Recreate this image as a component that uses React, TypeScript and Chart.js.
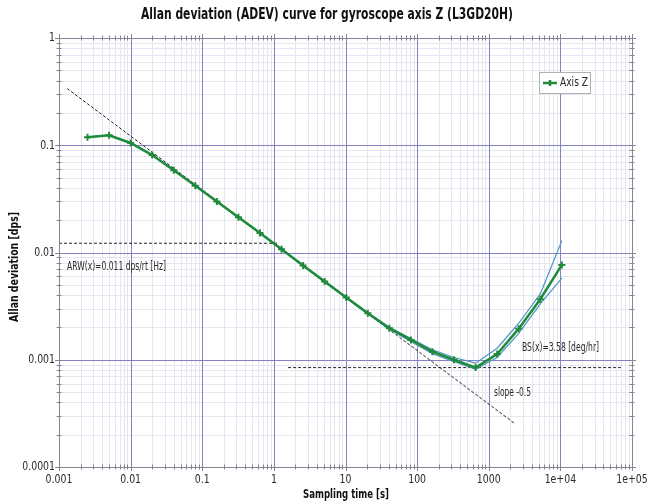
import { useEffect, useRef } from "react";
import { Chart, registerables } from "chart.js";
Chart.register(...registerables);

const TAU = [0.0025, 0.005, 0.01, 0.02, 0.04, 0.08, 0.16, 0.32, 0.64, 1.28, 2.56, 5.12, 10.24, 20.48, 40.96, 81.92, 163.84, 327.68, 655.36, 1310.72, 2621.44, 5242.88, 10485.76];
const ADEV = [0.119, 0.124, 0.105, 0.081, 0.0585, 0.042, 0.0299, 0.0213, 0.0152, 0.0107, 0.00755, 0.00536, 0.0038, 0.00272, 0.00197, 0.00153, 0.00119, 0.001, 0.000845, 0.00113, 0.00195, 0.00367, 0.00766];
const ADEV_UPPER = [0.119, 0.124, 0.105, 0.081, 0.0586, 0.0421, 0.03, 0.0214, 0.0153, 0.0108, 0.0076, 0.0054, 0.00384, 0.00276, 0.00201, 0.00158, 0.00124, 0.00105, 0.00093, 0.00128, 0.00219, 0.00411, 0.0129];
const ADEV_LOWER = [0.119, 0.124, 0.105, 0.081, 0.0584, 0.0419, 0.0298, 0.0212, 0.0151, 0.0106, 0.0075, 0.00532, 0.00376, 0.00268, 0.00193, 0.00148, 0.00114, 0.00096, 0.00082, 0.00105, 0.00176, 0.00332, 0.00576];

const SLOPE_LINE_X = [0.0013, 2270];
const SLOPE_LINE_Y = [0.338, 0.000256];
const ARW_LINE_X = [0.001, 1.17];
const ARW_LINE_Y = [0.0122, 0.0122];
const BS_LINE_X = [1.58, 69800];
const BS_LINE_Y = [0.000845, 0.000845];

const X_DECADES = [0.001, 0.01, 0.1, 1, 10, 100, 1000, 10000, 100000];
const X_TICK_LABELS = ["0.001", "0.01", "0.1", "1", "10", "100", "1000", "1e+04", "1e+05"];
const Y_DECADES = [0.0001, 0.001, 0.01, 0.1, 1];
const Y_TICK_LABELS = ["0.0001", "0.001", "0.01", "0.1", "1"];

const TITLE = "Allan deviation (ADEV) curve for gyroscope axis Z (L3GD20H)";
const X_TITLE = "Sampling time [s]";
const Y_TITLE = "Allan deviation [dps]";
const SERIES_LABEL = "Axis Z";
const ARW_TEXT = "ARW(x)=0.011 dps/rt [Hz]";
const BS_TEXT = "BS(x)=3.58 [deg/hr]";
const SLOPE_TEXT = "slope -0.5";

const FONT = "'DejaVu Sans Condensed', 'DejaVu Sans', sans-serif";
const GREEN = "#1f8a3a";
const BOUND = "#4b93c2";
const MAJOR = "#8282c4";
const MINOR = "#e6e6f0";
const FRAME = "#858595";
const TEXT = "#2a2a2a";
const SQUEEZE = 0.8;

function expand(decades: number[]): number[] {
  const out: number[] = [];
  for (let i = 0; i < decades.length - 1; i++) {
    for (let k = 1; k <= 9; k++) out.push(parseFloat((decades[i] * k).toPrecision(6)));
  }
  out.push(decades[decades.length - 1]);
  return out;
}
const X_ALL = expand(X_DECADES);
const Y_ALL = expand(Y_DECADES);

function decadeIndex(v: number, decades: number[]): number {
  for (let i = 0; i < decades.length; i++) {
    if (Math.abs(Math.log10(v) - Math.log10(decades[i])) < 1e-6) return i;
  }
  return -1;
}

const pts = (xs: number[], ys: number[]) => xs.map((x, i) => ({ x, y: ys[i] }));

function narrowText(c: CanvasRenderingContext2D, t: string, x: number, y: number) {
  const w = c.measureText(t).width;
  c.fillText(t, x, y, w * SQUEEZE);
}

export default function App() {
  const ref = useRef<HTMLCanvasElement>(null);
  useEffect(() => {
    document.body.style.margin = "0";
    const canvas = ref.current!;
    const decor = {
      id: "decor",
      beforeDraw(chart: any) {
        const c = chart.ctx;
        c.save();
        c.fillStyle = "#ffffff";
        c.fillRect(0, 0, chart.width, chart.height);
        c.restore();
      },
      beforeDatasetsDraw(chart: any) {
        const c = chart.ctx;
        const a = chart.chartArea;
        const xs = chart.scales.x;
        const ys = chart.scales.y;
        c.save();
        c.lineWidth = 1;
        for (const pass of [0, 1]) {
          c.strokeStyle = pass === 0 ? MINOR : MAJOR;
          c.beginPath();
          X_ALL.forEach((v) => {
            const major = decadeIndex(v, X_DECADES) >= 0;
            if ((pass === 1) !== major) return;
            const px = Math.round(xs.getPixelForValue(v)) + 0.5;
            c.moveTo(px, a.top); c.lineTo(px, a.bottom);
          });
          Y_ALL.forEach((v) => {
            const major = decadeIndex(v, Y_DECADES) >= 0;
            if ((pass === 1) !== major) return;
            const py = Math.round(ys.getPixelForValue(v)) + 0.5;
            c.moveTo(a.left, py); c.lineTo(a.right, py);
          });
          c.stroke();
        }
        c.restore();
      },
      afterDraw(chart: any) {
        const c = chart.ctx;
        const a = chart.chartArea;
        const xs = chart.scales.x;
        const ys = chart.scales.y;
        c.save();
        c.strokeStyle = FRAME;
        c.lineWidth = 1;
        c.strokeRect(Math.round(a.left) + 0.5, Math.round(a.top) + 0.5, Math.round(a.right - a.left), Math.round(a.bottom - a.top));
        c.beginPath();
        X_ALL.forEach((v) => {
          const px = Math.round(xs.getPixelForValue(v)) + 0.5;
          const L = decadeIndex(v, X_DECADES) >= 0 ? 4 : 2.5;
          c.moveTo(px, a.top - L); c.lineTo(px, a.top + L);
          c.moveTo(px, a.bottom - L); c.lineTo(px, a.bottom + L);
        });
        Y_ALL.forEach((v) => {
          const py = Math.round(ys.getPixelForValue(v)) + 0.5;
          const L = decadeIndex(v, Y_DECADES) >= 0 ? 4 : 2.5;
          c.moveTo(a.left - L, py); c.lineTo(a.left + L, py);
          c.moveTo(a.right - L, py); c.lineTo(a.right + L, py);
        });
        c.stroke();

        // tick labels
        c.fillStyle = TEXT;
        c.font = `13px ${FONT}`;
        c.textBaseline = "middle";
        c.textAlign = "center";
        X_DECADES.forEach((v, i) => narrowText(c, X_TICK_LABELS[i], xs.getPixelForValue(v), a.bottom + 13));
        c.textAlign = "right";
        Y_DECADES.forEach((v, i) => narrowText(c, Y_TICK_LABELS[i], a.left - 4, ys.getPixelForValue(v)));

        // titles
        c.fillStyle = "#111";
        c.textAlign = "center";
        c.font = `bold 15px ${FONT}`;
        c.fillText(TITLE, 327, 15, 372);
        c.font = `bold 13px ${FONT}`;
        c.fillText(X_TITLE, 346, 495, 86);
        c.save();
        c.translate(15, 267);
        c.rotate(-Math.PI / 2);
        c.fillText(Y_TITLE, 0, 0, 110);
        c.restore();

        // annotations
        c.fillStyle = TEXT;
        c.textAlign = "left";
        c.font = `12px ${FONT}`;
        c.fillText(ARW_TEXT, 67, 267, 99);
        c.fillText(BS_TEXT, 522, 348, 77);
        c.fillText(SLOPE_TEXT, 494, 393, 37);

        // legend
        c.fillStyle = "#ffffff";
        c.fillRect(539, 72, 51, 21);
        c.strokeStyle = "#b0b0b0";
        c.strokeRect(539.5, 72.5, 51, 21);
        c.strokeStyle = GREEN;
        c.lineWidth = 2.5;
        c.beginPath();
        c.moveTo(543, 83); c.lineTo(557, 83);
        c.moveTo(550, 80); c.lineTo(550, 86);
        c.stroke();
        c.fillStyle = TEXT;
        c.font = `12px ${FONT}`;
        c.fillText(SERIES_LABEL, 560, 83, 28);
        c.restore();
      },
    };

    const chart = new Chart(canvas, {
      type: "scatter",
      data: {
        datasets: [
          { label: SERIES_LABEL, data: pts(TAU, ADEV), showLine: true, borderColor: GREEN, backgroundColor: GREEN, borderWidth: 2.5, pointStyle: "cross", pointRadius: 3.5, pointBorderWidth: 2, order: 0 },
          { label: "upper", data: pts(TAU, ADEV_UPPER), showLine: true, borderColor: BOUND, borderWidth: 1.2, pointRadius: 0, order: 1 },
          { label: "lower", data: pts(TAU, ADEV_LOWER), showLine: true, borderColor: BOUND, borderWidth: 1.2, pointRadius: 0, order: 1 },
          { label: "slope", data: pts(SLOPE_LINE_X, SLOPE_LINE_Y), showLine: true, borderColor: "#222", borderWidth: 1, borderDash: [3, 2], pointRadius: 0, order: 2 },
          { label: "arw", data: pts(ARW_LINE_X, ARW_LINE_Y), showLine: true, borderColor: "#222", borderWidth: 1, borderDash: [3, 2], pointRadius: 0, order: 2 },
          { label: "bs", data: pts(BS_LINE_X, BS_LINE_Y), showLine: true, borderColor: "#222", borderWidth: 1, borderDash: [3, 2], pointRadius: 0, order: 2 },
        ],
      },
      options: {
        animation: false,
        responsive: false,
        devicePixelRatio: 1,
        layout: { padding: { left: 0, top: 38, right: 15, bottom: 0 } },
        plugins: { legend: { display: false }, tooltip: { enabled: false }, title: { display: false } },
        scales: {
          x: {
            type: "logarithmic",
            min: 0.001,
            max: 100000,
            afterBuildTicks: (s: any) => { s.ticks = X_ALL.map((v) => ({ value: v })); },
            afterFit: (s: any) => { s.height = 37; s.paddingLeft = 0; s.paddingRight = 0; },
            border: { display: false },
            grid: { display: false, drawTicks: false },
            ticks: { display: false, autoSkip: false },
          },
          y: {
            type: "logarithmic",
            min: 0.0001,
            max: 1,
            afterBuildTicks: (s: any) => { s.ticks = Y_ALL.map((v) => ({ value: v })); },
            afterFit: (s: any) => { s.width = 59; s.paddingTop = 0; s.paddingBottom = 0; },
            border: { display: false },
            grid: { display: false, drawTicks: false },
            ticks: { display: false, autoSkip: false },
          },
        },
      },
      plugins: [decor],
    } as any);
    return () => chart.destroy();
  }, []);
  return <canvas ref={ref} width={647} height={504} style={{ display: "block", width: 647, height: 504 }} />;
}
